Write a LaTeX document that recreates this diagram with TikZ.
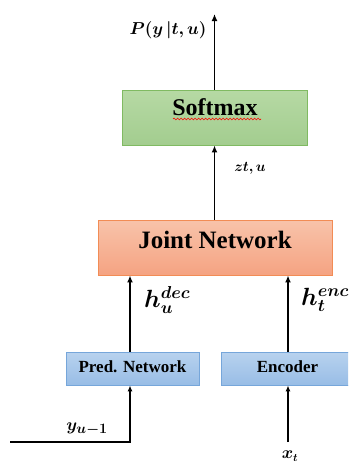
\documentclass[tikz,border=0pt]{standalone}
\usepackage{fontspec}
\setmainfont{Liberation Serif}
\usepackage{bm}
\usetikzlibrary{arrows.meta,positioning,decorations.pathmorphing}
\definecolor{softtop}{RGB}{182,217,164}
\definecolor{softbot}{RGB}{163,205,143}
\definecolor{softline}{RGB}{128,186,98}
\definecolor{jointtop}{RGB}{248,195,170}
\definecolor{jointbot}{RGB}{245,163,130}
\definecolor{jointline}{RGB}{242,140,85}
\definecolor{bluetop}{RGB}{184,210,238}
\definecolor{bluebot}{RGB}{152,189,230}
\definecolor{blueline}{RGB}{118,166,218}
\tikzset{block/.style={draw,line width=0.9pt,inner sep=0pt,font=\bfseries}}
\tikzset{softbox/.style={block,draw=softline,top color=softtop,bottom color=softbot,minimum width=185pt,text height=25pt,text depth=30pt,font=\bfseries\fontsize{24}{28}\selectfont}}
\tikzset{jointbox/.style={block,draw=jointline,top color=jointtop,bottom color=jointbot,minimum width=234pt,text height=28pt,text depth=27pt,font=\bfseries\fontsize{25}{30}\selectfont}}
\tikzset{smallbox/.style={block,draw=blueline,top color=bluetop,bottom color=bluebot,minimum width=133pt,text height=20pt,text depth=13pt,font=\bfseries\fontsize{17}{20}\selectfont}}
\tikzset{flow/.style={draw,line width=1.6pt,-{Latex[length=7pt,width=6pt]}}}
\tikzset{input/.style={draw,line width=1.1pt,-{Latex[length=6pt,width=5pt]}}}
\tikzset{lbl/.style={inner sep=0pt}}

\begin{document}
\begin{tikzpicture}[x=1pt,y=-1pt,node distance=130pt]
    \useasboundingbox (0,0) rectangle (348,463);
    \clip (0,0) rectangle (348,463);

    \node[jointbox] (joint) at (215,247.5) {Joint Network};
    \node[softbox,above of=joint] (soft) {Softmax};
    \node[smallbox] (pred) at (132.5,368.5) {Pred. Network};
    \node[smallbox] (enc) at (287.5,368.5) {Encoder};

    \coordinate (out) at (214.5,14);
    \coordinate (yin) at (10,442);
    \coordinate (xin) at (288,442);

    % spell-check underline
    \draw[red,line width=0.6pt,decorate,decoration={snake,amplitude=0.9pt,segment length=3.5pt}]
        (173,119) -- (261,119);

    \path[flow] (soft.north -| out) -- (out);
    \path[flow] (joint.north -| out) -- (soft.south -| out);
    \path[flow] (pred.north -| 130,0) -- (joint.south -| 130,0);
    \path[flow] (enc.north -| xin) -- (joint.south -| xin);
    \path[input] (yin) -| (pred.south -| 130,0);
    \path[input] (xin) -- (enc.south -| xin);

    \node[lbl,font=\fontsize{16}{18}\selectfont] (p) at (168,30) {$\bm{P(y\,|t,u)}$};
    \node[lbl,font=\fontsize{15}{17}\selectfont] (z) at (250,168) {$\bm{zt,u}$};
    \node[lbl,font=\fontsize{23}{26}\selectfont,anchor=west] (hdec) at (144,300) {$\bm{h_u^{dec}}$};
    \node[lbl,font=\fontsize{23}{26}\selectfont,anchor=west] (henc) at (301,300) {$\bm{h_t^{enc}}$};
    \node[lbl,font=\fontsize{19}{22}\selectfont] (y) at (87,429) {$\bm{y_{u-1}}$};
    \node[lbl,font=\fontsize{16}{18}\selectfont] (x) at (290,456) {$\bm{x_t}$};
\end{tikzpicture}
\end{document}
